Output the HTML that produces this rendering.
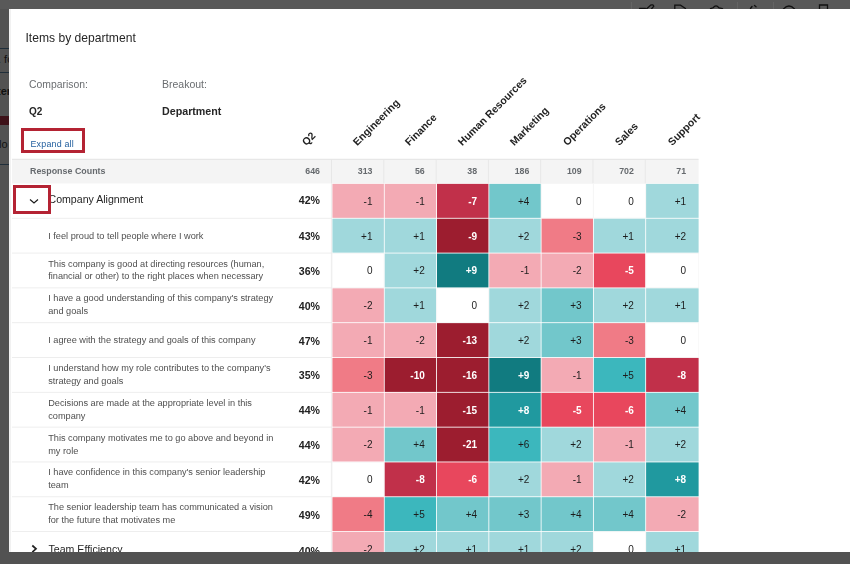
<!DOCTYPE html>
<html><head><meta charset="utf-8"><style>
*{margin:0;padding:0;box-sizing:border-box}
html,body{width:850px;height:564px;overflow:hidden;background:#525252;font-family:"Liberation Sans",sans-serif}
.a{position:absolute}
.modal{position:absolute;left:9px;top:9px;width:841px;height:543px;background:#fff;overflow:hidden;will-change:transform}
.t{position:absolute;white-space:nowrap}
.r{position:absolute;white-space:nowrap;text-align:right;width:60px}
</style></head>
<body>
<div class="a" style="left:0;top:0;width:850px;height:9px;background:#595959"></div><div class="a" style="left:0;top:48px;width:9px;height:1px;background:#1f2e3a"></div><div class="a" style="left:0;top:72px;width:9px;height:1px;background:#1f2e3a"></div><div class="a" style="left:0;top:116px;width:9px;height:9px;background:#3e1219"></div><div class="a" style="left:0;top:164px;width:9px;height:1px;background:#1f2e3a"></div><div class="t" style="left:-2px;top:53px;font-size:11px;color:#111">. fo</div><div class="t" style="left:-3px;top:85px;font-size:11px;font-weight:bold;color:#111">ter</div><div class="t" style="left:-1px;top:138px;font-size:11px;color:#111">lo</div><svg class="a" style="left:600px;top:0" width="250" height="9" viewBox="600 0 250 9"><g fill="none" stroke="#111" stroke-width="1.3" stroke-linecap="round"><path d="M639.5 8.3 H645.5"/><path d="M646.5 9 L650.5 5.2 Q653 4.2 653.8 6.2 L651.5 9"/><path d="M674.8 9 V5.2 H680.5 L685.5 8.5"/><path d="M710.5 8.6 L713 7.8 Q716 3.8 719 7.8 L722.5 8.6"/><path d="M750.5 8.5 L752 6.5 M754.5 5.5 L756 6.8"/><path d="M783.5 9 Q789 3 794.5 9"/><path d="M819.5 9 V5 H827.5 V9"/></g><g stroke="#646464" stroke-width="1"><path d="M631.5 2 V9 M737.5 2 V9 M773.5 2 V9"/></g></svg>
<div class="modal"><div class="a" style="left:-9px;top:-9px;width:850px;height:564px">
<svg class="a" style="left:0;top:0" width="850" height="564" viewBox="0 0 850 564"><rect x="12.0" y="159.2" width="686.60" height="24.25" fill="#f4f4f4"/><rect x="12.0" y="158.80" width="686.60" height="0.9" fill="#e2e2e2"/><rect x="331.10" y="159.2" width="0.9" height="24.25" fill="#e6e6e6"/><rect x="383.38" y="159.2" width="0.9" height="24.25" fill="#e6e6e6"/><rect x="435.66" y="159.2" width="0.9" height="24.25" fill="#e6e6e6"/><rect x="487.94" y="159.2" width="0.9" height="24.25" fill="#e6e6e6"/><rect x="540.22" y="159.2" width="0.9" height="24.25" fill="#e6e6e6"/><rect x="592.50" y="159.2" width="0.9" height="24.25" fill="#e6e6e6"/><rect x="644.78" y="159.2" width="0.9" height="24.25" fill="#e6e6e6"/><rect x="12.0" y="217.81" width="320.00" height="0.9" fill="#ececec"/><rect x="332.43" y="183.88" width="51.43" height="33.96" fill="#f3aab4"/><rect x="384.70" y="183.88" width="51.43" height="33.96" fill="#f3aab4"/><rect x="436.99" y="183.88" width="51.43" height="33.96" fill="#c1304a"/><rect x="489.27" y="183.88" width="51.43" height="33.96" fill="#72c7cb"/><rect x="541.12" y="183.45" width="52.28" height="34.81" fill="#f3f3f3"/><rect x="541.64" y="183.97" width="51.23" height="33.76" fill="#ffffff"/><rect x="593.40" y="183.45" width="52.28" height="34.81" fill="#f3f3f3"/><rect x="593.92" y="183.97" width="51.23" height="33.76" fill="#ffffff"/><rect x="646.11" y="183.88" width="52.50" height="33.96" fill="#a0d8dc"/><rect x="12.0" y="252.63" width="320.00" height="0.9" fill="#ececec"/><rect x="332.43" y="218.69" width="51.43" height="33.96" fill="#a0d8dc"/><rect x="384.70" y="218.69" width="51.43" height="33.96" fill="#a0d8dc"/><rect x="436.99" y="218.69" width="51.43" height="33.96" fill="#9c1d2f"/><rect x="489.27" y="218.69" width="51.43" height="33.96" fill="#a0d8dc"/><rect x="541.54" y="218.69" width="51.43" height="33.96" fill="#f07b86"/><rect x="593.82" y="218.69" width="51.43" height="33.96" fill="#a0d8dc"/><rect x="646.11" y="218.69" width="52.50" height="33.96" fill="#a0d8dc"/><rect x="12.0" y="287.44" width="320.00" height="0.9" fill="#ececec"/><rect x="332.00" y="253.08" width="52.28" height="34.81" fill="#f3f3f3"/><rect x="332.53" y="253.60" width="51.23" height="33.76" fill="#ffffff"/><rect x="384.70" y="253.50" width="51.43" height="33.96" fill="#a0d8dc"/><rect x="436.99" y="253.50" width="51.43" height="33.96" fill="#117b80"/><rect x="489.27" y="253.50" width="51.43" height="33.96" fill="#f3aab4"/><rect x="541.54" y="253.50" width="51.43" height="33.96" fill="#f3aab4"/><rect x="593.82" y="253.50" width="51.43" height="33.96" fill="#e8475d"/><rect x="645.68" y="253.08" width="53.35" height="34.81" fill="#f3f3f3"/><rect x="646.21" y="253.60" width="52.30" height="33.76" fill="#ffffff"/><rect x="12.0" y="322.25" width="320.00" height="0.9" fill="#ececec"/><rect x="332.43" y="288.31" width="51.43" height="33.96" fill="#f3aab4"/><rect x="384.70" y="288.31" width="51.43" height="33.96" fill="#a0d8dc"/><rect x="436.56" y="287.89" width="52.28" height="34.81" fill="#f3f3f3"/><rect x="437.09" y="288.41" width="51.23" height="33.76" fill="#ffffff"/><rect x="489.27" y="288.31" width="51.43" height="33.96" fill="#a0d8dc"/><rect x="541.54" y="288.31" width="51.43" height="33.96" fill="#72c7cb"/><rect x="593.82" y="288.31" width="51.43" height="33.96" fill="#a0d8dc"/><rect x="646.11" y="288.31" width="52.50" height="33.96" fill="#a0d8dc"/><rect x="12.0" y="357.06" width="320.00" height="0.9" fill="#ececec"/><rect x="332.43" y="323.13" width="51.43" height="33.96" fill="#f3aab4"/><rect x="384.70" y="323.13" width="51.43" height="33.96" fill="#f3aab4"/><rect x="436.99" y="323.13" width="51.43" height="33.96" fill="#9c1d2f"/><rect x="489.27" y="323.13" width="51.43" height="33.96" fill="#a0d8dc"/><rect x="541.54" y="323.13" width="51.43" height="33.96" fill="#72c7cb"/><rect x="593.82" y="323.13" width="51.43" height="33.96" fill="#f07b86"/><rect x="645.68" y="322.70" width="53.35" height="34.81" fill="#f3f3f3"/><rect x="646.21" y="323.23" width="52.30" height="33.76" fill="#ffffff"/><rect x="12.0" y="391.88" width="320.00" height="0.9" fill="#ececec"/><rect x="332.43" y="357.94" width="51.43" height="33.96" fill="#f07b86"/><rect x="384.70" y="357.94" width="51.43" height="33.96" fill="#9c1d2f"/><rect x="436.99" y="357.94" width="51.43" height="33.96" fill="#9c1d2f"/><rect x="489.27" y="357.94" width="51.43" height="33.96" fill="#117b80"/><rect x="541.54" y="357.94" width="51.43" height="33.96" fill="#f3aab4"/><rect x="593.82" y="357.94" width="51.43" height="33.96" fill="#3cb7bd"/><rect x="646.11" y="357.94" width="52.50" height="33.96" fill="#c1304a"/><rect x="12.0" y="426.69" width="320.00" height="0.9" fill="#ececec"/><rect x="332.43" y="392.75" width="51.43" height="33.96" fill="#f3aab4"/><rect x="384.70" y="392.75" width="51.43" height="33.96" fill="#f3aab4"/><rect x="436.99" y="392.75" width="51.43" height="33.96" fill="#9c1d2f"/><rect x="489.27" y="392.75" width="51.43" height="33.96" fill="#20999f"/><rect x="541.54" y="392.75" width="51.43" height="33.96" fill="#e8475d"/><rect x="593.82" y="392.75" width="51.43" height="33.96" fill="#e8475d"/><rect x="646.11" y="392.75" width="52.50" height="33.96" fill="#72c7cb"/><rect x="12.0" y="461.50" width="320.00" height="0.9" fill="#ececec"/><rect x="332.43" y="427.57" width="51.43" height="33.96" fill="#f3aab4"/><rect x="384.70" y="427.57" width="51.43" height="33.96" fill="#72c7cb"/><rect x="436.99" y="427.57" width="51.43" height="33.96" fill="#9c1d2f"/><rect x="489.27" y="427.57" width="51.43" height="33.96" fill="#3cb7bd"/><rect x="541.54" y="427.57" width="51.43" height="33.96" fill="#a0d8dc"/><rect x="593.82" y="427.57" width="51.43" height="33.96" fill="#f3aab4"/><rect x="646.11" y="427.57" width="52.50" height="33.96" fill="#a0d8dc"/><rect x="12.0" y="496.32" width="320.00" height="0.9" fill="#ececec"/><rect x="332.00" y="461.95" width="52.28" height="34.81" fill="#f3f3f3"/><rect x="332.53" y="462.48" width="51.23" height="33.76" fill="#ffffff"/><rect x="384.70" y="462.38" width="51.43" height="33.96" fill="#c1304a"/><rect x="436.99" y="462.38" width="51.43" height="33.96" fill="#e8475d"/><rect x="489.27" y="462.38" width="51.43" height="33.96" fill="#a0d8dc"/><rect x="541.54" y="462.38" width="51.43" height="33.96" fill="#f3aab4"/><rect x="593.82" y="462.38" width="51.43" height="33.96" fill="#a0d8dc"/><rect x="646.11" y="462.38" width="52.50" height="33.96" fill="#20999f"/><rect x="12.0" y="531.13" width="320.00" height="0.9" fill="#ececec"/><rect x="332.43" y="497.19" width="51.43" height="33.96" fill="#f07b86"/><rect x="384.70" y="497.19" width="51.43" height="33.96" fill="#3cb7bd"/><rect x="436.99" y="497.19" width="51.43" height="33.96" fill="#72c7cb"/><rect x="489.27" y="497.19" width="51.43" height="33.96" fill="#72c7cb"/><rect x="541.54" y="497.19" width="51.43" height="33.96" fill="#72c7cb"/><rect x="593.82" y="497.19" width="51.43" height="33.96" fill="#72c7cb"/><rect x="646.11" y="497.19" width="52.50" height="33.96" fill="#f3aab4"/><rect x="12.0" y="565.94" width="320.00" height="0.9" fill="#ececec"/><rect x="332.43" y="532.00" width="51.43" height="33.96" fill="#f3aab4"/><rect x="384.70" y="532.00" width="51.43" height="33.96" fill="#a0d8dc"/><rect x="436.99" y="532.00" width="51.43" height="33.96" fill="#a0d8dc"/><rect x="489.27" y="532.00" width="51.43" height="33.96" fill="#a0d8dc"/><rect x="541.54" y="532.00" width="51.43" height="33.96" fill="#a0d8dc"/><rect x="593.40" y="531.58" width="52.28" height="34.81" fill="#f3f3f3"/><rect x="593.92" y="532.10" width="51.23" height="33.76" fill="#ffffff"/><rect x="646.11" y="532.00" width="52.50" height="33.96" fill="#a0d8dc"/><rect x="330.90" y="183.45" width="0.9" height="400" fill="#ebebeb"/></svg>
<div class="a" style="left:9px;top:9px;width:2px;height:543px;background:#f1f1f1"></div>
<div class="t" style="left:25.5px;top:31px;font-size:12.1px;color:#262626">Items by department</div>
<div class="t" style="left:29px;top:78.6px;font-size:10.4px;color:#6a6d70">Comparison:</div>
<div class="t" style="left:162px;top:77.5px;font-size:10.5px;color:#6a6d70">Breakout:</div>
<div class="t" style="left:29px;top:105.5px;font-size:10px;font-weight:bold;color:#262626">Q2</div>
<div class="t" style="left:162px;top:105px;font-size:10.7px;font-weight:bold;color:#262626">Department</div>
<div class="a" style="left:21px;top:128px;width:64px;height:25px;border:3px solid #b42333"></div>
<div class="t" style="left:30.5px;top:138.5px;font-size:8.9px;letter-spacing:0.2px;color:#24609f">Expand all</div>
<div class="t" style="left:307.10px;top:137px;font-size:10.5px;font-weight:bold;color:#1f1f1f;transform-origin:0 100%;transform:rotate(-45deg);line-height:10px">Q2</div>
<div class="t" style="left:357.80px;top:137px;font-size:10.5px;font-weight:bold;color:#1f1f1f;transform-origin:0 100%;transform:rotate(-45deg);line-height:10px">Engineering</div>
<div class="t" style="left:410.25px;top:137px;font-size:10.5px;font-weight:bold;color:#1f1f1f;transform-origin:0 100%;transform:rotate(-45deg);line-height:10px">Finance</div>
<div class="t" style="left:462.70px;top:137px;font-size:10.5px;font-weight:bold;color:#1f1f1f;transform-origin:0 100%;transform:rotate(-45deg);line-height:10px">Human Resources</div>
<div class="t" style="left:515.15px;top:137px;font-size:10.5px;font-weight:bold;color:#1f1f1f;transform-origin:0 100%;transform:rotate(-45deg);line-height:10px">Marketing</div>
<div class="t" style="left:567.60px;top:137px;font-size:10.5px;font-weight:bold;color:#1f1f1f;transform-origin:0 100%;transform:rotate(-45deg);line-height:10px">Operations</div>
<div class="t" style="left:620.05px;top:137px;font-size:10.5px;font-weight:bold;color:#1f1f1f;transform-origin:0 100%;transform:rotate(-45deg);line-height:10px">Sales</div>
<div class="t" style="left:672.50px;top:137px;font-size:10.5px;font-weight:bold;color:#1f1f1f;transform-origin:0 100%;transform:rotate(-45deg);line-height:10px">Support</div>
<div class="t" style="left:30px;top:166px;font-size:8.9px;font-weight:bold;color:#666a6e">Response Counts</div>
<div class="r" style="left:260.00px;top:166px;font-size:8.8px;font-weight:bold;color:#666a6e">646</div>
<div class="r" style="left:312.48px;top:166px;font-size:8.8px;font-weight:bold;color:#666a6e">313</div>
<div class="r" style="left:364.76px;top:166px;font-size:8.8px;font-weight:bold;color:#666a6e">56</div>
<div class="r" style="left:417.04px;top:166px;font-size:8.8px;font-weight:bold;color:#666a6e">38</div>
<div class="r" style="left:469.32px;top:166px;font-size:8.8px;font-weight:bold;color:#666a6e">186</div>
<div class="r" style="left:521.60px;top:166px;font-size:8.8px;font-weight:bold;color:#666a6e">109</div>
<div class="r" style="left:573.88px;top:166px;font-size:8.8px;font-weight:bold;color:#666a6e">702</div>
<div class="r" style="left:626.16px;top:166px;font-size:8.8px;font-weight:bold;color:#666a6e">71</div>
<div class="t" style="left:48.5px;top:191.96px;font-size:10.6px;line-height:14px;color:#262626">Company Alignment</div>
<div class="r" style="left:260.00px;top:193.96px;font-size:10.6px;line-height:12px;font-weight:bold;color:#222">42%</div>
<div class="r" style="left:312.48px;top:195.70px;font-size:10px;line-height:12px;color:#1d1d1d;">-1</div>
<div class="r" style="left:364.76px;top:195.70px;font-size:10px;line-height:12px;color:#1d1d1d;">-1</div>
<div class="r" style="left:417.04px;top:195.70px;font-size:10px;line-height:12px;color:#ffffff;font-weight:bold;">-7</div>
<div class="r" style="left:469.32px;top:195.70px;font-size:10px;line-height:12px;color:#1d1d1d;">+4</div>
<div class="r" style="left:521.60px;top:195.70px;font-size:10px;line-height:12px;color:#1d1d1d;">0</div>
<div class="r" style="left:573.88px;top:195.70px;font-size:10px;line-height:12px;color:#1d1d1d;">0</div>
<div class="r" style="left:626.16px;top:195.70px;font-size:10px;line-height:12px;color:#1d1d1d;">+1</div>
<div class="t" style="left:48.2px;top:230.02px;font-size:9.2px;line-height:12.9px;color:#4f4f4f">I feel proud to tell people where I work</div>
<div class="r" style="left:260.00px;top:230.17px;font-size:10.6px;line-height:12px;font-weight:bold;color:#222">43%</div>
<div class="r" style="left:312.48px;top:230.51px;font-size:10px;line-height:12px;color:#1d1d1d;">+1</div>
<div class="r" style="left:364.76px;top:230.51px;font-size:10px;line-height:12px;color:#1d1d1d;">+1</div>
<div class="r" style="left:417.04px;top:230.51px;font-size:10px;line-height:12px;color:#ffffff;font-weight:bold;">-9</div>
<div class="r" style="left:469.32px;top:230.51px;font-size:10px;line-height:12px;color:#1d1d1d;">+2</div>
<div class="r" style="left:521.60px;top:230.51px;font-size:10px;line-height:12px;color:#1d1d1d;">-3</div>
<div class="r" style="left:573.88px;top:230.51px;font-size:10px;line-height:12px;color:#1d1d1d;">+1</div>
<div class="r" style="left:626.16px;top:230.51px;font-size:10px;line-height:12px;color:#1d1d1d;">+2</div>
<div class="t" style="left:48.2px;top:257.58px;font-size:9.2px;line-height:12.9px;color:#4f4f4f">This company is good at directing resources (human,<br>financial or other) to the right places when necessary</div>
<div class="r" style="left:260.00px;top:264.98px;font-size:10.6px;line-height:12px;font-weight:bold;color:#222">36%</div>
<div class="r" style="left:312.48px;top:265.33px;font-size:10px;line-height:12px;color:#1d1d1d;">0</div>
<div class="r" style="left:364.76px;top:265.33px;font-size:10px;line-height:12px;color:#1d1d1d;">+2</div>
<div class="r" style="left:417.04px;top:265.33px;font-size:10px;line-height:12px;color:#ffffff;font-weight:bold;">+9</div>
<div class="r" style="left:469.32px;top:265.33px;font-size:10px;line-height:12px;color:#1d1d1d;">-1</div>
<div class="r" style="left:521.60px;top:265.33px;font-size:10px;line-height:12px;color:#1d1d1d;">-2</div>
<div class="r" style="left:573.88px;top:265.33px;font-size:10px;line-height:12px;color:#ffffff;font-weight:bold;">-5</div>
<div class="r" style="left:626.16px;top:265.33px;font-size:10px;line-height:12px;color:#1d1d1d;">0</div>
<div class="t" style="left:48.2px;top:292.40px;font-size:9.2px;line-height:12.9px;color:#4f4f4f">I have a good understanding of this company's strategy<br>and goals</div>
<div class="r" style="left:260.00px;top:299.80px;font-size:10.6px;line-height:12px;font-weight:bold;color:#222">40%</div>
<div class="r" style="left:312.48px;top:300.14px;font-size:10px;line-height:12px;color:#1d1d1d;">-2</div>
<div class="r" style="left:364.76px;top:300.14px;font-size:10px;line-height:12px;color:#1d1d1d;">+1</div>
<div class="r" style="left:417.04px;top:300.14px;font-size:10px;line-height:12px;color:#1d1d1d;">0</div>
<div class="r" style="left:469.32px;top:300.14px;font-size:10px;line-height:12px;color:#1d1d1d;">+2</div>
<div class="r" style="left:521.60px;top:300.14px;font-size:10px;line-height:12px;color:#1d1d1d;">+3</div>
<div class="r" style="left:573.88px;top:300.14px;font-size:10px;line-height:12px;color:#1d1d1d;">+2</div>
<div class="r" style="left:626.16px;top:300.14px;font-size:10px;line-height:12px;color:#1d1d1d;">+1</div>
<div class="t" style="left:48.2px;top:334.46px;font-size:9.2px;line-height:12.9px;color:#4f4f4f">I agree with the strategy and goals of this company</div>
<div class="r" style="left:260.00px;top:334.61px;font-size:10.6px;line-height:12px;font-weight:bold;color:#222">47%</div>
<div class="r" style="left:312.48px;top:334.95px;font-size:10px;line-height:12px;color:#1d1d1d;">-1</div>
<div class="r" style="left:364.76px;top:334.95px;font-size:10px;line-height:12px;color:#1d1d1d;">-2</div>
<div class="r" style="left:417.04px;top:334.95px;font-size:10px;line-height:12px;color:#ffffff;font-weight:bold;">-13</div>
<div class="r" style="left:469.32px;top:334.95px;font-size:10px;line-height:12px;color:#1d1d1d;">+2</div>
<div class="r" style="left:521.60px;top:334.95px;font-size:10px;line-height:12px;color:#1d1d1d;">+3</div>
<div class="r" style="left:573.88px;top:334.95px;font-size:10px;line-height:12px;color:#1d1d1d;">-3</div>
<div class="r" style="left:626.16px;top:334.95px;font-size:10px;line-height:12px;color:#1d1d1d;">0</div>
<div class="t" style="left:48.2px;top:362.02px;font-size:9.2px;line-height:12.9px;color:#4f4f4f">I understand how my role contributes to the company's<br>strategy and goals</div>
<div class="r" style="left:260.00px;top:369.42px;font-size:10.6px;line-height:12px;font-weight:bold;color:#222">35%</div>
<div class="r" style="left:312.48px;top:369.76px;font-size:10px;line-height:12px;color:#1d1d1d;">-3</div>
<div class="r" style="left:364.76px;top:369.76px;font-size:10px;line-height:12px;color:#ffffff;font-weight:bold;">-10</div>
<div class="r" style="left:417.04px;top:369.76px;font-size:10px;line-height:12px;color:#ffffff;font-weight:bold;">-16</div>
<div class="r" style="left:469.32px;top:369.76px;font-size:10px;line-height:12px;color:#ffffff;font-weight:bold;">+9</div>
<div class="r" style="left:521.60px;top:369.76px;font-size:10px;line-height:12px;color:#1d1d1d;">-1</div>
<div class="r" style="left:573.88px;top:369.76px;font-size:10px;line-height:12px;color:#1d1d1d;">+5</div>
<div class="r" style="left:626.16px;top:369.76px;font-size:10px;line-height:12px;color:#ffffff;font-weight:bold;">-8</div>
<div class="t" style="left:48.2px;top:396.83px;font-size:9.2px;line-height:12.9px;color:#4f4f4f">Decisions are made at the appropriate level in this<br>company</div>
<div class="r" style="left:260.00px;top:404.23px;font-size:10.6px;line-height:12px;font-weight:bold;color:#222">44%</div>
<div class="r" style="left:312.48px;top:404.58px;font-size:10px;line-height:12px;color:#1d1d1d;">-1</div>
<div class="r" style="left:364.76px;top:404.58px;font-size:10px;line-height:12px;color:#1d1d1d;">-1</div>
<div class="r" style="left:417.04px;top:404.58px;font-size:10px;line-height:12px;color:#ffffff;font-weight:bold;">-15</div>
<div class="r" style="left:469.32px;top:404.58px;font-size:10px;line-height:12px;color:#ffffff;font-weight:bold;">+8</div>
<div class="r" style="left:521.60px;top:404.58px;font-size:10px;line-height:12px;color:#ffffff;font-weight:bold;">-5</div>
<div class="r" style="left:573.88px;top:404.58px;font-size:10px;line-height:12px;color:#ffffff;font-weight:bold;">-6</div>
<div class="r" style="left:626.16px;top:404.58px;font-size:10px;line-height:12px;color:#1d1d1d;">+4</div>
<div class="t" style="left:48.2px;top:431.65px;font-size:9.2px;line-height:12.9px;color:#4f4f4f">This company motivates me to go above and beyond in<br>my role</div>
<div class="r" style="left:260.00px;top:439.05px;font-size:10.6px;line-height:12px;font-weight:bold;color:#222">44%</div>
<div class="r" style="left:312.48px;top:439.39px;font-size:10px;line-height:12px;color:#1d1d1d;">-2</div>
<div class="r" style="left:364.76px;top:439.39px;font-size:10px;line-height:12px;color:#1d1d1d;">+4</div>
<div class="r" style="left:417.04px;top:439.39px;font-size:10px;line-height:12px;color:#ffffff;font-weight:bold;">-21</div>
<div class="r" style="left:469.32px;top:439.39px;font-size:10px;line-height:12px;color:#1d1d1d;">+6</div>
<div class="r" style="left:521.60px;top:439.39px;font-size:10px;line-height:12px;color:#1d1d1d;">+2</div>
<div class="r" style="left:573.88px;top:439.39px;font-size:10px;line-height:12px;color:#1d1d1d;">-1</div>
<div class="r" style="left:626.16px;top:439.39px;font-size:10px;line-height:12px;color:#1d1d1d;">+2</div>
<div class="t" style="left:48.2px;top:466.46px;font-size:9.2px;line-height:12.9px;color:#4f4f4f">I have confidence in this company's senior leadership<br>team</div>
<div class="r" style="left:260.00px;top:473.86px;font-size:10.6px;line-height:12px;font-weight:bold;color:#222">42%</div>
<div class="r" style="left:312.48px;top:474.20px;font-size:10px;line-height:12px;color:#1d1d1d;">0</div>
<div class="r" style="left:364.76px;top:474.20px;font-size:10px;line-height:12px;color:#ffffff;font-weight:bold;">-8</div>
<div class="r" style="left:417.04px;top:474.20px;font-size:10px;line-height:12px;color:#ffffff;font-weight:bold;">-6</div>
<div class="r" style="left:469.32px;top:474.20px;font-size:10px;line-height:12px;color:#1d1d1d;">+2</div>
<div class="r" style="left:521.60px;top:474.20px;font-size:10px;line-height:12px;color:#1d1d1d;">-1</div>
<div class="r" style="left:573.88px;top:474.20px;font-size:10px;line-height:12px;color:#1d1d1d;">+2</div>
<div class="r" style="left:626.16px;top:474.20px;font-size:10px;line-height:12px;color:#ffffff;font-weight:bold;">+8</div>
<div class="t" style="left:48.2px;top:501.27px;font-size:9.2px;line-height:12.9px;color:#4f4f4f">The senior leadership team has communicated a vision<br>for the future that motivates me</div>
<div class="r" style="left:260.00px;top:508.67px;font-size:10.6px;line-height:12px;font-weight:bold;color:#222">49%</div>
<div class="r" style="left:312.48px;top:509.02px;font-size:10px;line-height:12px;color:#1d1d1d;">-4</div>
<div class="r" style="left:364.76px;top:509.02px;font-size:10px;line-height:12px;color:#1d1d1d;">+5</div>
<div class="r" style="left:417.04px;top:509.02px;font-size:10px;line-height:12px;color:#1d1d1d;">+4</div>
<div class="r" style="left:469.32px;top:509.02px;font-size:10px;line-height:12px;color:#1d1d1d;">+3</div>
<div class="r" style="left:521.60px;top:509.02px;font-size:10px;line-height:12px;color:#1d1d1d;">+4</div>
<div class="r" style="left:573.88px;top:509.02px;font-size:10px;line-height:12px;color:#1d1d1d;">+4</div>
<div class="r" style="left:626.16px;top:509.02px;font-size:10px;line-height:12px;color:#1d1d1d;">-2</div>
<div class="t" style="left:48.5px;top:541.79px;font-size:10.6px;line-height:14px;color:#262626">Team Efficiency</div>
<svg class="a" style="left:30px;top:543.99px" width="8" height="10" viewBox="0 0 8 10"><path d="M2.3 1.5 L6 4.8 L2.3 8.1" fill="none" stroke="#222" stroke-width="1.7"/></svg>
<div class="r" style="left:260.00px;top:545.39px;font-size:10.6px;line-height:12px;font-weight:bold;color:#222">40%</div>
<div class="r" style="left:312.48px;top:543.83px;font-size:10px;line-height:12px;color:#1d1d1d;">-2</div>
<div class="r" style="left:364.76px;top:543.83px;font-size:10px;line-height:12px;color:#1d1d1d;">+2</div>
<div class="r" style="left:417.04px;top:543.83px;font-size:10px;line-height:12px;color:#1d1d1d;">+1</div>
<div class="r" style="left:469.32px;top:543.83px;font-size:10px;line-height:12px;color:#1d1d1d;">+1</div>
<div class="r" style="left:521.60px;top:543.83px;font-size:10px;line-height:12px;color:#1d1d1d;">+2</div>
<div class="r" style="left:573.88px;top:543.83px;font-size:10px;line-height:12px;color:#1d1d1d;">0</div>
<div class="r" style="left:626.16px;top:543.83px;font-size:10px;line-height:12px;color:#1d1d1d;">+1</div>
<div class="a" style="left:13px;top:185px;width:38px;height:29px;border:3px solid #b42333"></div>
<svg class="a" style="left:29px;top:196.5px" width="10" height="8" viewBox="0 0 10 8"><path d="M1 2.5 L5 6 L9 2.5" fill="none" stroke="#1a1a1a" stroke-width="1.15"/></svg>
</div></div>
</body></html>
